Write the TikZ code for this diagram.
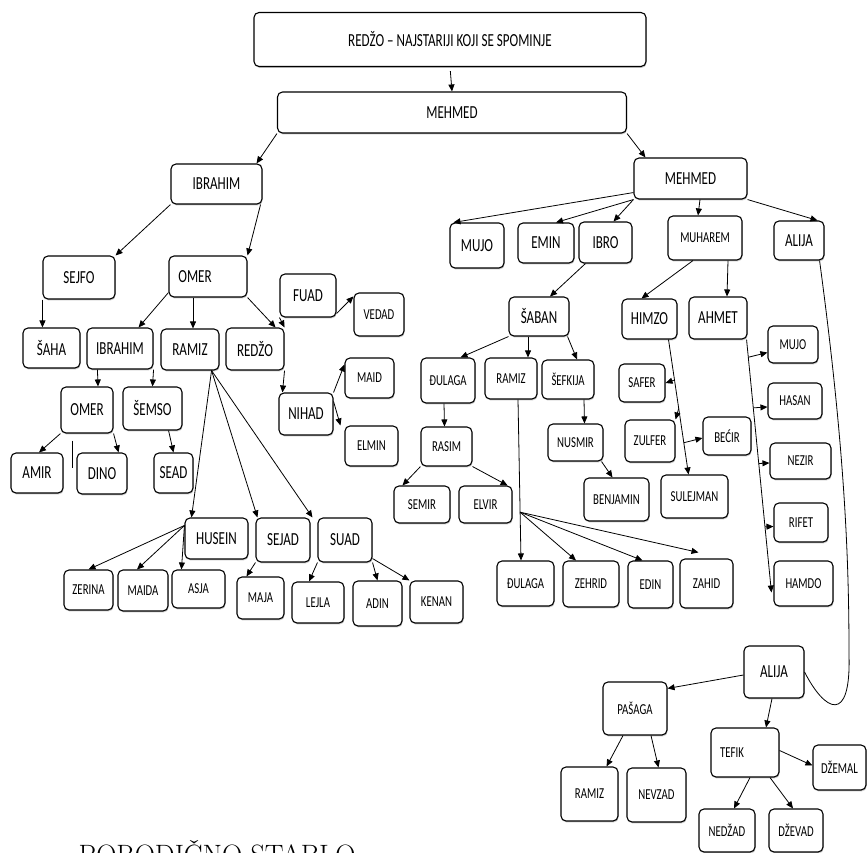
\documentclass[tikz,border=0pt]{standalone}
\usepackage{fontspec}
\usepackage{tikz}
\usetikzlibrary{positioning}
\usetikzlibrary{arrows.meta}
\usetikzlibrary{shadows}
\newfontfamily\boxfont[FakeStretch=0.71]{Carlito}
\tikzset{
	person/.style={rectangle,rounded corners=5pt,draw=black,line width=1.1pt,fill=white,inner sep=1pt,
		drop shadow={shadow xshift=0.6pt,shadow yshift=-1.4pt,fill=black!45}},
	personbig/.style={person,font=\boxfont\fontsize{18.4}{20}\selectfont},
	personsm/.style={person,font=\boxfont\fontsize{15.2}{17}\selectfont},
	sz/.style 2 args={minimum width=#1pt,minimum height=#2pt}}

\begin{document}
\begin{tikzpicture}[x=1pt,y=-1pt,>={Stealth[length=7pt,width=6pt,inset=0pt]},line width=0.8pt]
		\useasboundingbox (0,0) rectangle (867,853);

		\node[personbig,sz={392}{54}]  (eldest)   at (450,39.5)   {REDŽO – NAJSTARIJI KOJI SE SPOMINJE};
		\node[personbig,sz={349}{41}]  (mehmedA)  at (452,112.5)  {MEHMED};
		\node[personbig,sz={91}{40}]   (ibrahimA) at (216.5,184)  {IBRAHIM};
		\node[personbig,sz={113}{41}]  (mehmedB)  at (690.5,178.5) {MEHMED};

		\node[personbig,sz={72}{43}]   (sejfo)    at (79,277.5)   {SEJFO};
		\node[personbig,sz={78}{41}]   (omerA)    at (208,276.5)  {\hspace*{-26pt}OMER};
		\node[personbig,sz={56}{43}]   (fuad)     at (308,295.5)  {FUAD};
		\node[personsm,sz={50}{43}]    (vedad)    at (379,314.5)  {VEDAD};
		\node[personbig,sz={57}{40}]   (saha)     at (51.5,348)   {ŠAHA};
		\node[personbig,sz={66}{41}]   (ibrahimB) at (120,348.5)  {IBRAHIM};
		\node[personbig,sz={58}{41}]   (ramizA)   at (190,349.5)  {RAMIZ};
		\node[personbig,sz={58}{42}]   (redzo)    at (255,349)    {REDŽO};
		\node[personbig,sz={52}{46}]   (omerB)    at (87,410)     {OMER};
		\node[personbig,sz={59}{43}]   (semso)    at (152.5,408.5) {ŠEMSO};
		\node[personbig,sz={52}{40}]   (amir)     at (37,473)     {AMIR};
		\node[personbig,sz={50}{41}]   (dino)     at (102,473.5)  {DINO};
		\node[personbig,sz={39}{40}]   (sead)     at (173.5,473)  {SEAD};
		\node[personbig,sz={54}{42}]   (nihad)    at (306,414)    {NIHAD};
		\node[personsm,sz={49}{40}]    (maid)     at (369.5,378)  {MAID};
		\node[personsm,sz={53}{40}]    (elmin)    at (371.5,446)  {ELMIN};
		\node[personbig,sz={63}{41}]   (husein)   at (216.5,538.5) {HUSEIN};
		\node[personbig,sz={54}{44}]   (sejad)    at (283,540)    {SEJAD};
		\node[personbig,sz={54}{44}]   (suad)     at (345,540)    {SUAD};
		\node[personsm,sz={49}{40}]    (zerina)   at (88.5,590)   {ZERINA};
		\node[personsm,sz={50}{41}]    (maida)    at (143,590.5)  {MAIDA};
		\node[personsm,sz={53}{38}]    (asja)     at (198.5,589)  {ASJA};
		\node[personsm,sz={47}{42}]    (maja)     at (260.5,598)  {MAJA};
		\node[personsm,sz={52}{41}]    (lejla)    at (318,602.5)  {LEJLA};
		\node[personsm,sz={49}{45}]    (adin)     at (377.5,603.5) {ADIN};
		\node[personsm,sz={53}{42}]    (kenan)    at (436.5,602)  {KENAN};

		\node[personbig,sz={54}{45}]   (mujoA)    at (477,245.5)  {MUJO};
		\node[personbig,sz={56}{40}]   (emin)     at (546,243)    {EMIN};
		\node[personbig,sz={53}{41}]   (ibro)     at (605.5,242.5) {IBRO};
		\node[personsm,sz={74}{44}]    (muharem)  at (705,238)    {MUHAREM};
		\node[personbig,sz={50}{39}]   (alijaA)   at (799,240.5)  {ALIJA};
		\node[personbig,sz={60}{39}]   (saban)    at (539,316.5)  {ŠABAN};
		\node[personbig,sz={55}{40}]   (himzo)    at (649.5,319)  {HIMZO};
		\node[personbig,sz={58}{42}]   (ahmet)    at (718,318)    {AHMET};
		\node[personsm,sz={54}{45}]    (dulagaA)  at (448,380.5)  {ĐULAGA};
		\node[personsm,sz={52}{41}]    (ramizB)   at (511,378.5)  {RAMIZ};
		\node[personsm,sz={52}{39}]    (sefkija)  at (568,379.5)  {ŠEFKIJA};
		\node[personsm,sz={51}{39}]    (rasim)    at (446.5,446.5) {RASIM};
		\node[personsm,sz={55}{37}]    (nusmir)   at (575.5,442.5) {NUSMIR};
		\node[personsm,sz={56}{37}]    (semir)    at (422,504.5)  {SEMIR};
		\node[personsm,sz={53}{37}]    (elvir)    at (485.5,504.5) {ELVIR};
		\node[personsm,sz={65}{43}]    (benjamin) at (616.5,499.5) {BENJAMIN};
		\node[personsm,sz={67}{43}]    (sulejman) at (694.5,496.5) {SULEJMAN};
		\node[personsm,sz={46}{38}]    (safer)    at (642,383)    {SAFER};
		\node[personsm,sz={50}{42}]    (zulfer)   at (650,441)    {ZULFER};
		\node[personsm,sz={48}{38}]    (becir)    at (727,436)    {BEĆIR};
		\node[personsm,sz={50}{37}]    (mujoB)    at (793,344.5)  {MUJO};
		\node[personsm,sz={54}{36}]    (hasan)    at (795,401)    {HASAN};
		\node[personsm,sz={61}{36}]    (nezir)    at (800.5,461)  {NEZIR};
		\node[personsm,sz={54}{39}]    (rifet)    at (801,522.5)  {RIFET};
		\node[personsm,sz={59}{45}]    (hamdo)    at (803.5,583.5) {HAMDO};
		\node[personsm,sz={57}{45}]    (dulagaB)  at (525.5,583.5) {ĐULAGA};
		\node[personsm,sz={56}{46}]    (zehrid)   at (591,584)    {ZEHRID};
		\node[personsm,sz={45}{47}]    (edin)     at (650.5,584.5) {EDIN};
		\node[personsm,sz={53}{49}]    (zahid)    at (706.5,583.5) {ZAHID};
		\node[personbig,sz={60}{52}]   (alijaB)   at (774,672)    {ALIJA};
		\node[personsm,sz={64}{53}]    (pasaga)   at (635,708.5)  {PAŠAGA};
		\node[personsm,sz={68}{49}]    (tefik)    at (745,752.5)  {\hspace*{-26pt}TEFIK};
		\node[personsm,sz={53}{45}]    (dzemal)   at (839.5,767.5) {DŽEMAL};
		\node[personsm,sz={57}{54}]    (ramizC)   at (589.5,794)  {RAMIZ};
		\node[personsm,sz={59}{54}]    (nevzad)   at (656.5,795)  {NEVZAD};
		\node[personsm,sz={56}{43}]    (nedzad)   at (727,830.5)  {NEDŽAD};
		\node[personsm,sz={54}{43}]    (dzevad)   at (796,830.5)  {DŽEVAD};

		\node[anchor=base west,font=\fontsize{28}{32}\selectfont] (title) at (75,864) {PORODIČNO STABLO};

		\draw[->,shorten <=4pt] (eldest.south) -- (mehmedA.north);
		\draw[->] (mehmedA.south west) -- ([xshift=-6pt]ibrahimA.north east);
		\draw[->] (mehmedA.south east) -- ([xshift=12pt]mehmedB.north west);

		\draw[->] (ibrahimA.south west) -- (sejfo.north east);
		\draw[->] ([xshift=-2pt]ibrahimA.south east) -- (omerA.north east);
		\draw[->] (sejfo.south west) -- ([xshift=20pt]saha.north west);
		\draw[->] ([yshift=5pt]omerA.south west) -- ([xshift=-15pt]ibrahimB.north east);
		\draw[->] ([xshift=-15pt]omerA.south) -- ([xshift=3pt]ramizA.north);
		\draw[->] (omerA.south east) -- ([xshift=-9pt]redzo.north east);
		\draw[->] (fuad.south west) -- (redzo.north east);
		\draw[->] ([yshift=4pt]fuad.south east) -- ([yshift=-4pt]vedad.north west);
		\draw[->] ([xshift=11pt]ibrahimB.south west) -- ([xshift=11pt]omerB.north);
		\draw[->] (ibrahimB.south east) -- (semso.north);
		\draw[->] (omerB.south west) -- ([xshift=2pt]amir.north);
		\draw[->] (omerB.south east) -- ([xshift=-9pt]dino.north east);
		\draw ([xshift=12pt,yshift=-7pt]omerB.south west) -- ++(0,27);
		\draw[->] ([xshift=-14pt]semso.south east) -- (sead.north);
		\draw[->] (redzo.south east) -- ([xshift=4pt]nihad.north west);
		\draw[->] (nihad.north east) -- ([yshift=-7pt]maid.north west);
		\draw[->] ([yshift=-9pt]nihad.north east) -- ([xshift=-4pt]elmin.north west);
		\draw[->] ([xshift=-8pt]ramizA.south east) -- ([xshift=7pt]husein.north west);
		\draw[->] ([xshift=-8pt]ramizA.south east) -- ([xshift=2pt]sejad.north west);
		\draw[->] ([xshift=-8pt]ramizA.south east) -- ([xshift=-5pt]suad.north west);
		\draw[->] ([yshift=-8pt]husein.north west) -- (zerina.north);
		\draw[->] ([yshift=-8pt]husein.north west) -- ([xshift=-6pt]maida.north);
		\draw[->] ([yshift=-8pt]husein.north west) -- ([xshift=10pt]asja.north west);
		\draw[->] (sejad.south west) -- ([xshift=10pt]maja.north west);
		\draw[->] (suad.south west) -- ([xshift=-9pt]lejla.north);
		\draw[->] (suad.south east) -- (adin.north);
		\draw[->] ([yshift=4pt]suad.south east) -- (kenan.north west);

		\draw[->] ([yshift=7pt]mehmedB.south west) -- ([xshift=4pt]mujoA.north west);
		\draw[->] (mehmedB.south west) -- ([xshift=10pt]emin.north);
		\draw[->] (mehmedB.south west) -- ([xshift=8pt]ibro.north);
		\draw[->] ([xshift=9.5pt]mehmedB.south) -- ([xshift=-7pt]muharem.north);
		\draw[->] (mehmedB.south east) -- ([xshift=-7pt]alijaA.north east);
		\draw[->] ([xshift=7pt]ibro.south west) -- ([xshift=11pt]saban.north);
		\draw[->] ([xshift=-12pt]muharem.south) -- ([xshift=-8pt]himzo.north);
		\draw[->] ([xshift=23pt]muharem.south) -- ([xshift=9pt]ahmet.north);
		\draw[->] (saban.south west) -- ([xshift=-15pt]dulagaA.north east);
		\draw[->] ([xshift=-11pt]saban.south) -- ([xshift=17pt]ramizB.north);
		\draw[->] ([xshift=-2pt]saban.south east) -- ([xshift=9pt]sefkija.north);
		\draw[->] ([xshift=-4pt]dulagaA.south) -- ([xshift=-2pt]rasim.north);
		\draw[->] (rasim.south west) -- ([xshift=9pt]semir.north west);
		\draw[->] (rasim.south east) -- ([xshift=-5pt]elvir.north east);
		\draw[->] ([xshift=16pt]sefkija.south) -- ([xshift=9pt]nusmir.north);
		\draw[->] ([xshift=-2pt]nusmir.south east) -- ([xshift=-4pt]benjamin.north);
		\draw[->] ([xshift=7pt]ramizB.south) -- coordinate[pos=0.7] (fan) ([xshift=-4.5pt]dulagaB.north);
		\draw[->] (fan) -- ([xshift=-15pt]zehrid.north);
		\draw[->] (fan) -- ([xshift=-8pt]edin.north);
		\draw[->] (fan) -- ([xshift=-8pt,yshift=6pt]zahid.north);
		\draw[->] ([xshift=19pt]himzo.south) -- coordinate[pos=0.3] (hs1) coordinate[pos=0.51] (hs2)
			coordinate[pos=0.765] (hs3) ([xshift=-6pt]sulejman.north);
		\draw[->] (hs1) -- (safer.east);
		\draw[->] (hs2) -- (zulfer.north east);
		\draw[->] (hs3) -- ([yshift=-2pt]becir.west);
		\draw[->] ([xshift=-1pt]ahmet.south east) -- coordinate[pos=0.07] (ah1) coordinate[pos=0.27] (ah2)
			coordinate[pos=0.49] (ah3) coordinate[pos=0.74] (ah4) ([xshift=-2pt,yshift=-9pt]hamdo.west);
		\draw[->] (ah1) -- ([yshift=-8pt]mujoB.west);
		\draw[->] (ah2) -- ([yshift=-6pt]hasan.west);
		\draw[->] (ah3) -- ([yshift=-2pt]nezir.west);
		\draw[->] (ah4) -- ([yshift=-4pt]rifet.west);

		\coordinate (bend) at (849,655);
		\draw ([xshift=-5pt]alijaA.south east) .. controls (845,450) and (849,560) .. (bend)
			.. controls (851,725) and (825,712) .. (alijaB.east);
		\draw[->] ([yshift=-3pt]alijaB.west) -- ([yshift=-7pt]pasaga.north east);
		\draw[->] ([xshift=-2pt]alijaB.south) -- ([xshift=21pt]tefik.north);
		\draw[->] ([xshift=-12pt]pasaga.south) -- ([xshift=-12pt]ramizC.north east);
		\draw[->] ([xshift=16pt]pasaga.south) -- ([xshift=2pt]nevzad.north);
		\draw[->] ([yshift=2pt]tefik.east) -- ([yshift=2pt]dzemal.west);
		\draw[->] ([xshift=5pt]tefik.south) -- ([xshift=7pt]nedzad.north);
		\draw[->] ([xshift=25pt]tefik.south) -- ([xshift=-3pt]dzevad.north);
\end{tikzpicture}
\end{document}
